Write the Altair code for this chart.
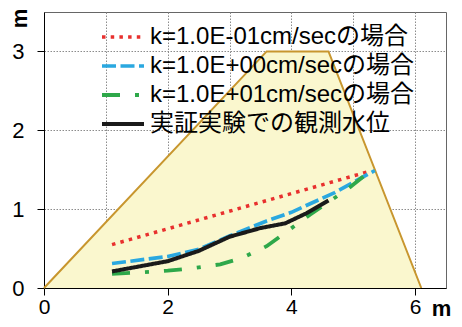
import altair as alt
import pandas as pd

# Dam cross-section outline
dam_x = [0.0, 3.6, 4.6, 6.1]
dam_y = [0.0, 3.0, 3.0, 0.0]

series_names = [
    "k=1.0E-01cm/secの場合",
    "k=1.0E+00cm/secの場合",
    "k=1.0E+01cm/secの場合",
    "実証実験での観測水位",
]

red_x = [1.1, 5.22]
red_y = [0.55, 1.47]

blue_x = [1.1, 2.0, 2.5, 3.0, 3.6, 4.0, 4.7, 5.35]
blue_y = [0.31, 0.40, 0.49, 0.66, 0.85, 0.96, 1.21, 1.49]

green_x = [1.1, 1.6, 2.0, 2.4, 2.85, 3.2, 3.6, 3.9, 4.3, 4.9, 5.22]
green_y = [0.18, 0.20, 0.22, 0.25, 0.30, 0.38, 0.53, 0.70, 0.93, 1.25, 1.45]

black_x = [1.1, 2.0, 2.5, 3.0, 3.5, 3.9, 4.25, 4.6]
black_y = [0.21, 0.34, 0.47, 0.65, 0.76, 0.82, 0.95, 1.11]

colors = ["#E8302E", "#2AA8E0", "#2EA84A", "#1A1A1A"]
dashes = [[3.5, 5.2], [14, 4.5], [18, 15, 4, 15], [1, 0]]
widths = [3.5, 4.0, 4.0, 5.5]

x_ticks = [0, 1, 2, 3, 4, 5, 6]
y_ticks = [0, 1, 2, 3]

dam_df = pd.DataFrame({"x": dam_x, "y": dam_y})

rows = []
for name, xs, ys in zip(series_names,
                        [red_x, blue_x, green_x, black_x],
                        [red_y, blue_y, green_y, black_y]):
    for xv, yv in zip(xs, ys):
        rows.append({"series": name, "x": xv, "y": yv})
lines_df = pd.DataFrame(rows)

FONT = "Liberation Sans, Arial, Noto Sans CJK JP"

x_scale = alt.Scale(domain=[0, 6.5], nice=False, zero=False)
y_scale = alt.Scale(domain=[0, 3.5], nice=False, zero=False)

x_axis = alt.Axis(
    values=x_ticks,
    format="d",
    labelFlush=False,
    labelExpr="datum.value % 2 == 0 ? datum.label : ''",
    tickOpacity={"condition": {"test": "datum.value % 2 == 1", "value": 0}, "value": 1},
    title="m",
    titleX=397,
    titleY=27,
    titleBaseline="alphabetic",
    titleAlign="center",
    titleAngle=0,
)
y_axis = alt.Axis(
    values=y_ticks,
    format="d",
    labelFlush=False,
    title="m",
    titleX=-25,
    titleY=6,
    titleAngle=270,
    titleAlign="center",
    titleBaseline="middle",
)

area = alt.Chart(dam_df).mark_area(color="#FAF7CE", opacity=1).encode(
    x=alt.X("x:Q", scale=x_scale, axis=x_axis),
    y=alt.Y("y:Q", scale=y_scale, axis=y_axis),
)
outline = alt.Chart(dam_df).mark_line(color="#C8962E", strokeWidth=2).encode(
    x=alt.X("x:Q", scale=x_scale),
    y=alt.Y("y:Q", scale=y_scale),
)

lines = alt.Chart(lines_df).mark_line().encode(
    x=alt.X("x:Q", scale=x_scale),
    y=alt.Y("y:Q", scale=y_scale),
    color=alt.Color("series:N", scale=alt.Scale(domain=series_names, range=colors),
                    legend=alt.Legend(title=None)),
    strokeDash=alt.StrokeDash("series:N", scale=alt.Scale(domain=series_names, range=dashes),
                              legend=alt.Legend(title=None)),
    strokeWidth=alt.StrokeWidth("series:N", scale=alt.Scale(domain=series_names, range=widths),
                                legend=alt.Legend(title=None)),
    detail="series:N",
)

chart = alt.layer(area, outline, lines).properties(
    width=402,
    height=276,
    padding={"left": 36, "top": 4, "right": 8, "bottom": 32},
    autosize=alt.AutoSizeParams(type="none"),
).configure_view(
    stroke="#666666", strokeWidth=1
).configure_axis(
    zindex=1,
    grid=True,
    gridColor="#8C8C8C",
    gridDash=[1.5, 1.5],
    gridWidth=1,
    domainColor="#000000",
    domainWidth=1,
    tickColor="#000000",
    tickSize=7,
    labelFont=FONT,
    labelFontSize=22,
    labelColor="#000000",
    labelPadding=12,
    titleFont=FONT,
    titleFontSize=22,
    titleFontWeight="bold",
    titleColor="#000000",
).configure_axisX(
    labelPadding=1,
    labelFontSize=21,
).configure_axisY(
    labelPadding=13,
).configure_legend(
    orient="none",
    legendX=56,
    legendY=12,
    symbolType="stroke",
    symbolSize=1764,
    clipHeight=26,
    labelFont=FONT,
    labelFontSize=24,
    labelColor="#000000",
    labelOffset=4,
    labelLimit=500,
    rowPadding=3,
    padding=0,
)

chart.save("out.html", embed_options={"renderer": "svg", "actions": False})
